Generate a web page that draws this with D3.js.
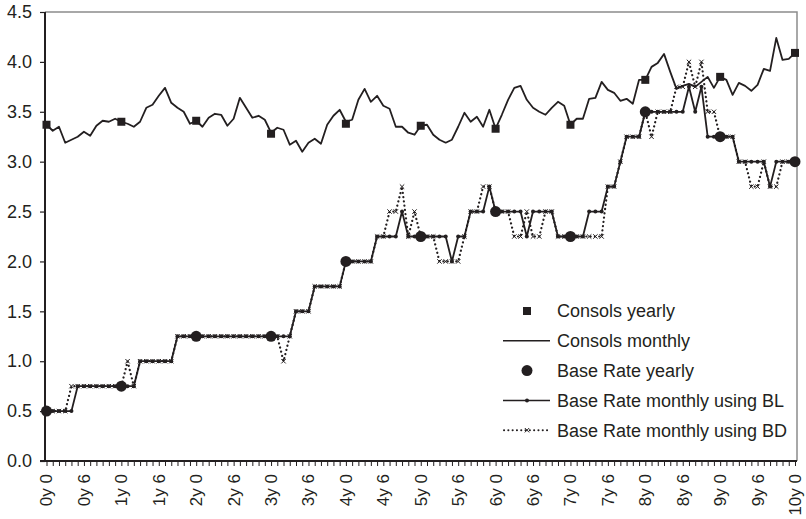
<!DOCTYPE html>
<html>
<head>
<meta charset="utf-8">
<script src="https://cdn.jsdelivr.net/npm/d3@7/dist/d3.min.js"></script>
<style>
  html, body { margin: 0; padding: 0; background: #fff; }
  svg { display: block; font-family: "Liberation Sans", Arial, sans-serif; }
</style>
</head>
<body>
<svg id="chart" width="806" height="519"></svg>
<script>
// Month index 0..120 (ten years of monthly observations)
const months = [
  0,1,2,3,4,5,6,7,8,9,10,11,12,13,14,15,16,17,18,19,20,
  21,22,23,24,25,26,27,28,29,30,31,32,33,34,35,36,37,38,39,40,
  41,42,43,44,45,46,47,48,49,50,51,52,53,54,55,56,57,58,59,60,
  61,62,63,64,65,66,67,68,69,70,71,72,73,74,75,76,77,78,79,80,
  81,82,83,84,85,86,87,88,89,90,91,92,93,94,95,96,97,98,99,100,
  101,102,103,104,105,106,107,108,109,110,111,112,113,114,115,116,117,118,119,120
];

// Consols yield, monthly
const consolsMonthly = [
  3.37,3.31,3.35,3.19,3.22,3.25,3.30,3.26,3.36,3.41,3.40,3.43,3.40,
  3.38,3.35,3.40,3.54,3.57,3.66,3.74,3.59,3.54,3.50,3.38,3.41,
  3.35,3.44,3.48,3.47,3.36,3.43,3.64,3.54,3.44,3.46,3.42,3.29,
  3.34,3.32,3.17,3.21,3.10,3.19,3.23,3.18,3.37,3.46,3.52,3.40,
  3.42,3.62,3.73,3.60,3.66,3.56,3.53,3.35,3.35,3.29,3.27,3.36,
  3.37,3.27,3.22,3.19,3.22,3.35,3.49,3.40,3.45,3.35,3.52,3.33,
  3.47,3.62,3.74,3.76,3.62,3.54,3.50,3.47,3.54,3.60,3.56,3.37,
  3.43,3.43,3.63,3.64,3.80,3.72,3.69,3.61,3.63,3.58,3.82,3.82,
  3.95,3.99,4.08,3.90,3.73,3.76,3.78,3.75,3.80,3.85,3.74,3.85,
  3.82,3.67,3.79,3.76,3.71,3.77,3.93,3.91,4.24,4.02,4.03,4.09
];

// Base Rate, monthly, BL convention
const baseMonthlyBL = [
  0.50,0.50,0.50,0.50,0.50,0.75,0.75,0.75,0.75,0.75,0.75,0.75,0.75,
  0.75,0.75,1.00,1.00,1.00,1.00,1.00,1.00,1.25,1.25,1.25,1.25,
  1.25,1.25,1.25,1.25,1.25,1.25,1.25,1.25,1.25,1.25,1.25,1.25,
  1.25,1.25,1.25,1.50,1.50,1.50,1.75,1.75,1.75,1.75,1.75,2.00,
  2.00,2.00,2.00,2.00,2.25,2.25,2.25,2.25,2.50,2.25,2.25,2.25,
  2.25,2.25,2.25,2.25,2.00,2.25,2.25,2.50,2.50,2.50,2.75,2.50,
  2.50,2.50,2.50,2.50,2.25,2.50,2.50,2.50,2.50,2.25,2.25,2.25,
  2.25,2.25,2.50,2.50,2.50,2.75,2.75,3.00,3.25,3.25,3.25,3.50,
  3.50,3.50,3.50,3.50,3.50,3.50,3.75,3.50,3.75,3.25,3.25,3.25,
  3.25,3.25,3.00,3.00,3.00,3.00,3.00,2.75,3.00,3.00,3.00,3.00
];

// Base Rate, monthly, BD convention
const baseMonthlyBD = [
  0.50,0.50,0.50,0.50,0.75,0.75,0.75,0.75,0.75,0.75,0.75,0.75,0.75,
  1.00,0.75,1.00,1.00,1.00,1.00,1.00,1.00,1.25,1.25,1.25,1.25,
  1.25,1.25,1.25,1.25,1.25,1.25,1.25,1.25,1.25,1.25,1.25,1.25,
  1.25,1.00,1.25,1.50,1.50,1.50,1.75,1.75,1.75,1.75,1.75,2.00,
  2.00,2.00,2.00,2.00,2.25,2.25,2.50,2.50,2.75,2.25,2.50,2.25,
  2.25,2.25,2.00,2.00,2.00,2.00,2.25,2.50,2.50,2.75,2.75,2.50,
  2.50,2.50,2.25,2.25,2.50,2.25,2.25,2.50,2.50,2.25,2.25,2.25,
  2.25,2.25,2.25,2.25,2.25,2.75,2.75,3.00,3.25,3.25,3.25,3.50,
  3.25,3.50,3.50,3.50,3.75,3.75,4.00,3.75,4.00,3.50,3.50,3.25,
  3.25,3.25,3.00,3.00,2.75,2.75,3.00,2.75,2.75,3.00,3.00,3.00
];

// Yearly observations (month 0, 12, ..., 120)
const yearlyMonths = [0,12,24,36,48,60,72,84,96,108,120];
const consolsYearly = [3.37,3.40,3.41,3.28,3.38,3.36,3.33,3.37,3.82,3.85,4.09];
const baseYearly = [0.50,0.75,1.25,1.25,2.00,2.25,2.50,2.25,3.50,3.25,3.00];

// Axis ticks and labels
const yTicks = [0,0.5,1.0,1.5,2.0,2.5,3.0,3.5,4.0,4.5];
const labelMonths = [0,6,12,18,24,30,36,42,48,54,60,66,72,78,84,90,96,102,108,114,120];
const labelTexts = ["0y 0","0y 6","1y 0","1y 6","2y 0","2y 6","3y 0","3y 6","4y 0","4y 6",
                    "5y 0","5y 6","6y 0","6y 6","7y 0","7y 6","8y 0","8y 6","9y 0","9y 6","10y 0"];

const legendItems = ["Consols yearly","Consols monthly","Base Rate yearly",
                     "Base Rate monthly using BL","Base Rate monthly using BD"];

const ink = "#231f20";
const svg = d3.select("#chart");

const plotLeft = 45, plotRight = 797, plotTop = 12, plotBottom = 461;
const x = d3.scaleLinear().domain([0, 120]).range([46.5, 795]);
const y = d3.scaleLinear().domain([0, 4.5]).range([plotBottom, plotTop]);

// Plot frame: grey top and right edges
svg.append("path")
  .attr("d", `M${plotLeft},${plotTop}H${plotRight}V${plotBottom}`)
  .attr("fill", "none").attr("stroke", "#8c8c8c").attr("stroke-width", 1.5);

// Y axis
const yAxis = svg.append("g")
  .attr("transform", `translate(${plotLeft},0)`)
  .call(d3.axisLeft(y).tickValues(yTicks).tickSize(5).tickSizeOuter(0)
        .tickFormat(d3.format(".1f")));
yAxis.select(".domain").remove();
yAxis.selectAll(".tick line").attr("stroke", ink).attr("stroke-width", 1.2);
yAxis.selectAll(".tick text")
  .attr("x", -13).attr("fill", ink)
  .style("font-size", "18px").style("font-family", "'Liberation Sans', Arial, sans-serif");

// X axis: a tick for every month
const xAxis = svg.append("g")
  .attr("transform", `translate(0,${plotBottom})`)
  .call(d3.axisBottom(x).tickValues(months).tickSize(5).tickSizeOuter(0).tickFormat(""));
xAxis.select(".domain").remove();
xAxis.selectAll(".tick line").attr("stroke", ink).attr("stroke-width", 1);

// Axis lines
svg.append("line").attr("x1", plotLeft).attr("x2", plotLeft)
  .attr("y1", plotTop).attr("y2", plotBottom + 1)
  .attr("stroke", ink).attr("stroke-width", 2);
svg.append("line").attr("x1", plotLeft - 5).attr("x2", plotRight)
  .attr("y1", plotBottom).attr("y2", plotBottom)
  .attr("stroke", ink).attr("stroke-width", 2);

// Rotated x labels every six months
svg.append("g").selectAll("text")
  .data(labelMonths)
  .join("text")
  .attr("transform", d => `translate(${x(d)},${plotBottom + 13}) rotate(-90)`)
  .attr("text-anchor", "end")
  .attr("dy", "0.35em")
  .attr("fill", ink)
  .style("font-size", "17px")
  .text((d, i) => labelTexts[i]);

const line = d3.line().x((d, i) => x(months[i])).y(d => y(d));

// Base Rate monthly (BD): dotted line with x markers
svg.append("path")
  .datum(baseMonthlyBD)
  .attr("d", line)
  .attr("fill", "none").attr("stroke", ink)
  .attr("stroke-width", 2.2).attr("stroke-linecap", "round")
  .attr("stroke-dasharray", "0.1 4.2");
const crossPath = s => `M${-s},${-s}L${s},${s}M${-s},${s}L${s},${-s}`;
svg.append("g").selectAll("path")
  .data(baseMonthlyBD)
  .join("path")
  .attr("transform", (d, i) => `translate(${x(months[i])},${y(d)})`)
  .attr("d", crossPath(2.2))
  .attr("stroke", ink).attr("stroke-width", 1);

// Base Rate monthly (BL): solid line with small dots
svg.append("path")
  .datum(baseMonthlyBL)
  .attr("d", line)
  .attr("fill", "none").attr("stroke", ink).attr("stroke-width", 1.8)
  .attr("stroke-linejoin", "round");
svg.append("g").selectAll("circle")
  .data(baseMonthlyBL)
  .join("circle")
  .attr("cx", (d, i) => x(months[i])).attr("cy", d => y(d))
  .attr("r", 2).attr("fill", ink);

// Consols monthly: solid line
svg.append("path")
  .datum(consolsMonthly)
  .attr("d", line)
  .attr("fill", "none").attr("stroke", ink).attr("stroke-width", 1.8)
  .attr("stroke-linejoin", "round");

// Yearly markers
svg.append("g").selectAll("rect")
  .data(consolsYearly)
  .join("rect")
  .attr("x", (d, i) => x(yearlyMonths[i]) - 4).attr("y", d => y(d) - 4)
  .attr("width", 8).attr("height", 8).attr("fill", ink);
svg.append("g").selectAll("circle")
  .data(baseYearly)
  .join("circle")
  .attr("cx", (d, i) => x(yearlyMonths[i])).attr("cy", d => y(d))
  .attr("r", 5.5).attr("fill", ink);

// Legend
const legend = svg.append("g").attr("transform", "translate(503,311)");
const rowH = 29.8;
legendItems.forEach((name, i) => {
  const g = legend.append("g").attr("transform", `translate(0,${i * rowH})`);
  if (i === 0) {
    g.append("rect").attr("x", 20).attr("y", -4).attr("width", 8).attr("height", 8).attr("fill", ink);
  } else if (i === 1) {
    g.append("line").attr("x1", 0).attr("x2", 47).attr("stroke", ink).attr("stroke-width", 1.5);
  } else if (i === 2) {
    g.append("circle").attr("cx", 24).attr("r", 5.5).attr("fill", ink);
  } else if (i === 3) {
    g.append("line").attr("x1", 0).attr("x2", 47).attr("stroke", ink).attr("stroke-width", 1.5);
    g.append("circle").attr("cx", 24).attr("r", 2).attr("fill", ink);
  } else {
    g.append("line").attr("x1", 1).attr("x2", 47).attr("stroke", ink)
      .attr("stroke-width", 2).attr("stroke-linecap", "round").attr("stroke-dasharray", "0.1 4.2");
    g.append("path").attr("transform", "translate(24,0)").attr("d", crossPath(2.2))
      .attr("stroke", ink).attr("stroke-width", 1);
  }
  g.append("text").attr("x", 54).attr("dy", "0.35em").attr("fill", ink)
    .style("font-size", "18px").text(name);
});
</script>
</body>
</html>
